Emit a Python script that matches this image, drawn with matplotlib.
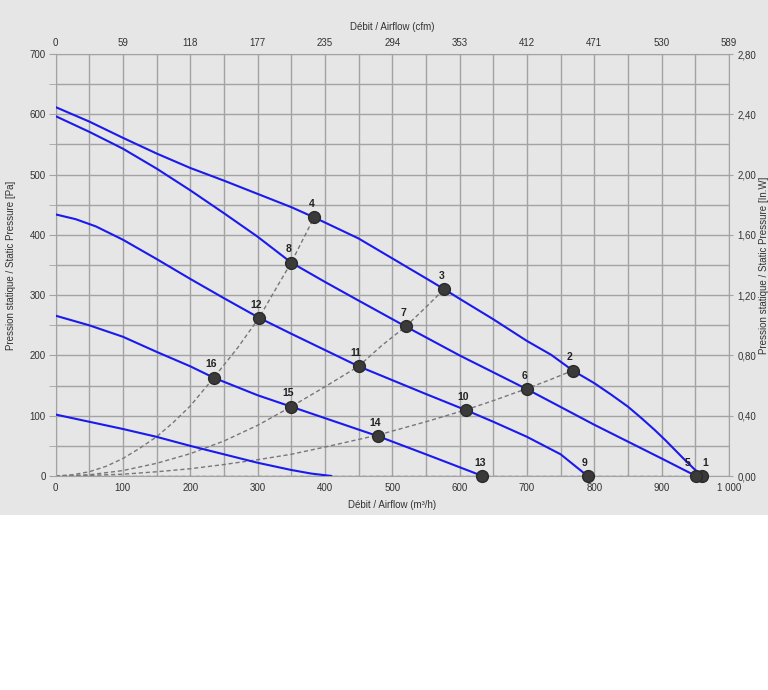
import matplotlib
matplotlib.use("Agg")
import matplotlib.pyplot as plt
from matplotlib.patches import Rectangle
from matplotlib.ticker import MultipleLocator, FixedLocator, FixedFormatter

plt.rcParams['font.family'] = ['Liberation Sans', 'DejaVu Sans']

# fan curves (m3/h, Pa)
flow_a = [0, 50, 100, 150, 200, 250, 300, 350, 384, 450, 500, 550, 577, 600, 650, 700, 736, 768,
          800, 825, 850, 870, 890, 905, 920, 935, 948, 960]
pres_a = [612, 588, 561, 535, 511, 490, 468, 446, 429, 394, 361, 328, 310, 294, 260, 224, 201, 175,
          154, 135, 115, 96, 76, 60, 43, 26, 12, 0]

flow_b = [0, 50, 100, 150, 200, 250, 300, 350, 400, 450, 520, 600, 700, 800, 850, 900, 951]
pres_b = [597, 571, 543, 510, 474, 436, 397, 354, 322, 291, 248, 200, 144, 85, 57, 29, 0]

flow_c = [0, 30, 60, 100, 150, 200, 250, 303, 350, 400, 450, 500, 550, 610, 650, 700, 750, 790]
pres_c = [434, 426, 414, 392, 360, 327, 295, 262, 236, 209, 182, 159, 136, 109, 90, 65, 36, 0]

flow_d = [0, 50, 100, 150, 200, 235, 300, 350, 400, 479, 550, 634]
pres_d = [266, 250, 231, 206, 182, 163, 134, 115, 96, 66, 36, 0]

flow_e = [0, 50, 100, 150, 200, 250, 300, 350, 380, 410]
pres_e = [102, 90, 78, 65, 50, 36, 22, 10, 4, 0]

# system curves (dashed)
sys1_flow = [0, 25, 50, 75, 100, 125, 150, 175, 200, 235, 270, 302, 330, 350, 384]
sys1_pres = [0, 2, 7, 16, 29, 46, 65, 89, 116, 163, 212, 262, 316, 354, 429]
sys2_flow = [0, 50, 100, 150, 200, 250, 300, 350, 400, 450, 485, 520, 550, 577]
sys2_pres = [0, 2, 9, 21, 37, 58, 84, 115, 148, 182, 217, 248, 280, 310]
sys3_flow = [0, 50, 100, 150, 200, 250, 300, 350, 400, 479, 550, 610, 650, 700, 735, 768]
sys3_pres = [0, 1, 3, 7, 12, 19, 27, 36, 48, 68, 90, 110, 125, 145, 160, 175]
sys4_flow = [0, 960]
sys4_pres = [0, 0]

# operating points
point_ids = ['1', '2', '3', '4', '5', '6', '7', '8', '9', '10', '11', '12', '13', '14', '15', '16']
point_flow = [960, 768, 577, 384, 951, 700, 520, 350, 790, 610, 450, 302, 634, 479, 350, 235]
point_pres = [0, 175, 310, 429, 0, 144, 248, 354, 0, 109, 182, 262, 0, 66, 115, 163]

cfm_labels = ['0', '59', '118', '177', '235', '294', '353', '412', '471', '530', '589']
inwg_labels = ['0,00', '0,40', '0,80', '1,20', '1,60', '2,00', '2,40', '2,80']
x_labels = ['0', '100', '200', '300', '400', '500', '600', '700', '800', '900', '1 000']

bg = '#e6e6e6'
grid_c = '#a3a3a3'
txt = '#333333'
blue = '#1a1aee'

fig = plt.figure(figsize=(7.68, 6.9), dpi=100)
fig.patches.append(Rectangle((0, 0.2536), 1, 0.7464, transform=fig.transFigure,
                             facecolor=bg, edgecolor='none', zorder=-10))

ax = fig.add_axes([55.5 / 768, 214 / 690, (729 - 55.5) / 768, (476 - 54) / 690])
ax.set_facecolor(bg)
ax.set_xlim(0, 1000)
ax.set_ylim(0, 700)

ax.xaxis.set_major_locator(FixedLocator(range(0, 1001, 100)))
ax.xaxis.set_major_formatter(FixedFormatter(x_labels))
ax.xaxis.set_minor_locator(MultipleLocator(50))
ax.yaxis.set_major_locator(MultipleLocator(100))
ax.yaxis.set_minor_locator(MultipleLocator(50))
ax.grid(True, which='both', color=grid_c, linewidth=1.0, zorder=1)
ax.set_axisbelow(True)
for s in ax.spines.values():
    s.set_color(grid_c)
ax.tick_params(axis='x', which='both', length=0, labelsize=7, labelcolor=txt, pad=5)
ax.tick_params(axis='y', which='both', length=5, color=grid_c, labelsize=7, labelcolor=txt, pad=2)
ax.set_xlabel('Débit / Airflow (m³/h)', fontsize=7, color=txt, labelpad=5)
ax.set_ylabel('Pression statique / Static Pressure [Pa]', fontsize=7, color=txt, labelpad=10)

for fx, py in [(sys1_flow, sys1_pres), (sys2_flow, sys2_pres), (sys3_flow, sys3_pres), (sys4_flow, sys4_pres)]:
    ax.plot(fx, py, color='#777777', linestyle=(0, (3, 2)), linewidth=1.0, zorder=2)

for fx, py in [(flow_a, pres_a), (flow_b, pres_b), (flow_c, pres_c), (flow_d, pres_d), (flow_e, pres_e)]:
    ax.plot(fx, py, color=blue, linewidth=1.5, zorder=3, solid_capstyle='round', solid_joinstyle='round')

ax.plot(point_flow, point_pres, 'o', markersize=8.5, color='#3a3a3a',
        markeredgecolor='#2a2a2a', zorder=4, clip_on=False)
for pid, fx, py in zip(point_ids, point_flow, point_pres):
    dx = -6 if pid == '5' else (2 if pid == '1' else -2)
    ax.annotate(pid, (fx, py), xytext=(dx, 6), textcoords='offset points',
                ha='center', va='bottom', fontsize=7.5, fontweight='bold', color='#222222', zorder=5)

top = ax.twiny()
top.set_xlim(0, 1000)
top.xaxis.set_major_locator(FixedLocator(range(0, 1001, 100)))
top.xaxis.set_major_formatter(FixedFormatter(cfm_labels))
top.tick_params(axis='x', length=0, labelsize=7, labelcolor=txt, pad=4)
top.set_xlabel('Débit / Airflow (cfm)', fontsize=7, color=txt, labelpad=6)
for s in top.spines.values():
    s.set_visible(False)

right = ax.twinx()
right.set_ylim(0, 700)
right.yaxis.set_major_locator(FixedLocator(range(0, 701, 100)))
right.yaxis.set_major_formatter(FixedFormatter(inwg_labels))
right.tick_params(axis='y', length=3, color=grid_c, labelsize=7, labelcolor=txt, pad=3)
right.set_ylabel('Pression statique / Static Pressure [In.W]', fontsize=7, color=txt, labelpad=2)
for s in right.spines.values():
    s.set_visible(False)

fig.savefig('out.png', dpi=100, facecolor='white')
